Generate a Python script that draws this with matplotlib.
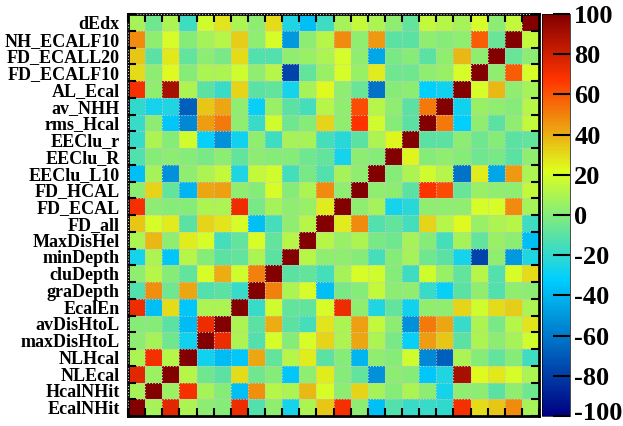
import numpy as np
import matplotlib
matplotlib.use("Agg")
import matplotlib.pyplot as plt
import matplotlib.transforms as mtransforms
from matplotlib.colors import LinearSegmentedColormap

plt.rcParams['font.family'] = ['Liberation Serif', 'DejaVu Serif']
plt.rcParams['font.weight'] = 'bold'
plt.rcParams['axes.unicode_minus'] = False

# variable names, bottom to top
names = ['EcalNHit', 'HcalNHit', 'NLEcal', 'NLHcal', 'maxDisHtoL', 'avDisHtoL',
         'EcalEn', 'graDepth', 'cluDepth', 'minDepth', 'MaxDisHel', 'FD_all',
         'FD_ECAL', 'FD_HCAL', 'EEClu_L10', 'EEClu_R', 'EEClu_r', 'rms_Hcal',
         'av_NHH', 'AL_Ecal', 'FD_ECALF10', 'FD_ECALL20', 'NH_ECALF10', 'dEdx']

# correlation (%) of each variable with the ones below it (column order = names)
corr_HcalNHit = [8]
corr_NLEcal = [75, 6]
corr_NLHcal = [10, 70, 12]
corr_maxDisHtoL = [2, 8, -5, -28]
corr_avDisHtoL = [0, 0, -10, -38, 72]
corr_EcalEn = [72, -37, 30, -35, 10, 10]
corr_graDepth = [-12, 47, -5, 42, -12, -10, -18]
corr_cluDepth = [3, 12, 0, -8, 20, 40, 18, 50]
corr_minDepth = [-27, 10, -35, 12, 0, -10, -8, 10, -10]
corr_MaxDisHel = [10, 38, 3, 26, 20, -15, -8, 20, -8, 12]
corr_FD_all = [35, 20, 26, -10, 32, 28, 20, -37, -15, 3, 12]
corr_FD_ECAL = [70, 2, 0, 0, 10, 10, 72, -3, 8, 3, 5, 26]
corr_FD_HCAL = [2, 32, -8, -40, 42, 43, 3, 0, 20, 0, 10, 48, 3]
corr_EEClu_L10 = [-37, 8, -52, 3, 10, 15, -25, 15, 18, -15, -3, -12, 8, 3]
corr_EEClu_R = [-12, 0, 2, 0, -3, 2, -8, 2, 0, 0, -5, -8, -27, 2, 0]
corr_EEClu_r = [-18, 10, 0, 18, -30, -52, -28, 3, -17, 8, 8, -15, -22, -10, 10, 24]
corr_rms_Hcal = [-18, 2, -35, -55, 44, 52, 3, -18, 18, -5, 0, 32, 3, 68, 18, 0, -10]
corr_av_NHH = [-20, -27, -25, -68, 35, 42, 3, -30, 5, -10, -15, 12, 3, 62, 12, 3,
               -10, 52]
corr_AL_Ecal = [70, 3, 90, 10, -10, -18, 32, -10, -8, -27, 8, 23, 3, -7, -62, 0, 2,
                -32, -28]
corr_FD_ECALF10 = [30, 2, 23, 0, 10, 10, 18, 3, 12, -78, -8, 5, 20, 5, 26, -5, -5,
                   3, 5, 20]
corr_FD_ECALL20 = [35, -10, 27, -8, 2, -3, 30, -12, -12, 3, 5, 10, 20, 3, -45, -3,
                   0, -10, 3, 38, 3]
corr_NH_ECALF10 = [48, 3, 20, 0, 8, 12, 33, 3, 20, -50, 2, 12, 48, 3, 45, -10, -10,
                   3, 0, 3, 58, -7]
corr_dEdx = [8, -5, 10, -17, 18, 28, 10, 2, 30, -25, -37, -17, 8, 15, 10, 3, -8, 15,
             12, 8, 20, 2, 15]

rows = [[], corr_HcalNHit, corr_NLEcal, corr_NLHcal, corr_maxDisHtoL, corr_avDisHtoL,
        corr_EcalEn, corr_graDepth, corr_cluDepth, corr_minDepth, corr_MaxDisHel,
        corr_FD_all, corr_FD_ECAL, corr_FD_HCAL, corr_EEClu_L10, corr_EEClu_R,
        corr_EEClu_r, corr_rms_Hcal, corr_av_NHH, corr_AL_Ecal, corr_FD_ECALF10,
        corr_FD_ECALL20, corr_NH_ECALF10, corr_dEdx]

n = len(names)
mat = np.eye(n) * 100
for i, r in enumerate(rows):
    for j, v in enumerate(r):
        mat[i, j] = v
        mat[j, i] = v

# ROOT-like rainbow palette
stops = [0.00, 0.34, 0.61, 0.84, 1.00]
red = [0.00, 0.00, 0.87, 1.00, 0.51]
green = [0.00, 0.81, 1.00, 0.20, 0.00]
blue = [0.51, 1.00, 0.12, 0.00, 0.00]
cmap = LinearSegmentedColormap.from_list(
    'rootrainbow', [(s, (r, g, b)) for s, r, g, b in zip(stops, red, green, blue)], N=256)

fig = plt.figure(figsize=(6.23, 4.26), dpi=100)
ax = fig.add_axes([128 / 623, 10 / 426, 411 / 623, 402 / 426])
mesh = ax.pcolormesh(np.arange(n + 1), np.arange(n + 1), mat, cmap=cmap,
                     vmin=-100, vmax=100)
ax.set_xlim(0, n)
ax.set_ylim(0, n)

ax.set_xticks(np.arange(n + 1))
ax.set_xticklabels([])
ax.set_yticks(np.arange(n + 1))
ax.set_yticklabels([])
ax.set_yticks(np.arange(n) + 0.5, labels=names, minor=True)
ax.tick_params(which='major', direction='in', length=6, width=1.5,
               top=True, right=True, bottom=True, left=True)
ax.tick_params(axis='y', which='minor', length=0, labelsize=13, pad=6)
ax.tick_params(axis='x', which='minor', length=0)
for lab in ax.get_yticklabels(minor=True):
    lab.set_fontweight('bold')
ax.grid(True, which='major', ls=':', color='#c8c8c8', lw=0.8)
ax.set_axisbelow(False)
for sp in ax.spines.values():
    sp.set_linewidth(2)

cax = fig.add_axes([542 / 623, 10 / 426, 28 / 623, 402 / 426])
cb = fig.colorbar(mesh, cax=cax)
cb.outline.set_linewidth(0.5)
cticks = list(range(-100, 101, 20))
cb.set_ticks(cticks)
cb.set_ticklabels([str(t) for t in cticks])
cax.tick_params(direction='in', length=12, width=1.5, labelsize=19, pad=3)
clabs = cax.get_yticklabels()
for lab in clabs:
    lab.set_fontweight('bold')
# nudge the lowest label up so it stays inside the figure
clabs[0].set_transform(clabs[0].get_transform() +
                       mtransforms.ScaledTranslation(0, 5 / 100, fig.dpi_scale_trans))

fig.savefig('out.png', dpi=100)
